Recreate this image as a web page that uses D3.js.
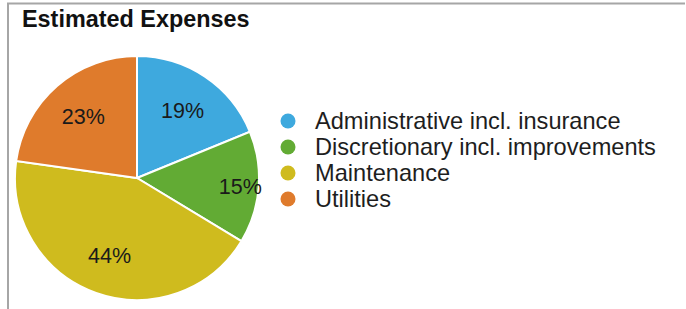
<!DOCTYPE html>
<html>
<head>
<meta charset="utf-8">
<script src="https://cdn.jsdelivr.net/npm/d3@7"></script>
<style>
  body { margin: 0; background: #fff; }
  svg { display: block; font-family: "Liberation Sans", Arial, sans-serif; }
</style>
</head>
<body>
<div id="chart-area"></div>
<script>
// chart data
var categories = ["Administrative incl. insurance", "Discretionary incl. improvements", "Maintenance", "Utilities"];
var values = [19, 15, 44, 23];
var colors = ["#3ea9de", "#62ab34", "#cfbb1e", "#df7b2c"];

var width = 686, height = 309;

var svg = d3.select("#chart-area")
  .append("svg")
  .attr("width", width)
  .attr("height", height);

// frame lines (top and left)
svg.append("line")
  .attr("x1", 7).attr("x2", 685)
  .attr("y1", 3.5).attr("y2", 3.5)
  .attr("stroke", "#a6a6a6")
  .attr("stroke-width", 2);
svg.append("line")
  .attr("x1", 8).attr("x2", 8)
  .attr("y1", 3).attr("y2", height)
  .attr("stroke", "#a6a6a6")
  .attr("stroke-width", 2);

// title
svg.append("text")
  .attr("x", 22)
  .attr("y", 27)
  .attr("font-size", "23.4px")
  .attr("font-weight", "bold")
  .attr("fill", "#111")
  .text("Estimated Expenses");

/* Pie */
var cx = 137, cy = 178, radius = 122;

var pie = d3.pie().sort(null).value(d => d);
var arcs = pie(values);

var arc = d3.arc().innerRadius(0).outerRadius(radius);

var pieGroup = svg.append("g")
  .attr("transform", "translate(" + cx + ", " + cy + ")");

pieGroup.selectAll("path.slice")
  .data(arcs).enter()
  .append("path")
  .attr("class", "slice")
  .attr("d", arc)
  .attr("fill", (d, i) => colors[i])
  .attr("stroke", "#fff")
  .attr("stroke-width", 2);

// labels: narrow slices push the label further out
pieGroup.selectAll("text.pct")
  .data(arcs).enter()
  .append("text")
  .attr("class", "pct")
  .attr("transform", function (d) {
    var span = d.endAngle - d.startAngle;
    var r = span < 1.0 ? radius * 0.85 : radius * 0.67;
    var a = (d.startAngle + d.endAngle) / 2;
    return "translate(" + (Math.sin(a) * r) + ", " + (-Math.cos(a) * r) + ")";
  })
  .attr("dy", "0.36em")
  .attr("text-anchor", "middle")
  .attr("font-size", "21.5px")
  .attr("fill", "#1a1a1a")
  .text(d => d.data + "%");

/* Legend */
var legend = svg.append("g")
  .attr("transform", "translate(288, 121)");

var rowY = d3.scaleLinear().domain([0, 1]).range([0, 26]);

var rows = legend.selectAll("g.row")
  .data(categories).enter()
  .append("g")
  .attr("class", "row")
  .attr("transform", (d, i) => "translate(0, " + rowY(i) + ")");

rows.append("circle")
  .attr("r", 7.5)
  .attr("fill", (d, i) => colors[i]);

rows.append("text")
  .attr("x", 27)
  .attr("dy", "0.35em")
  .attr("font-size", "23.6px")
  .attr("fill", "#1e1e1e")
  .text(d => d);
</script>
</body>
</html>
